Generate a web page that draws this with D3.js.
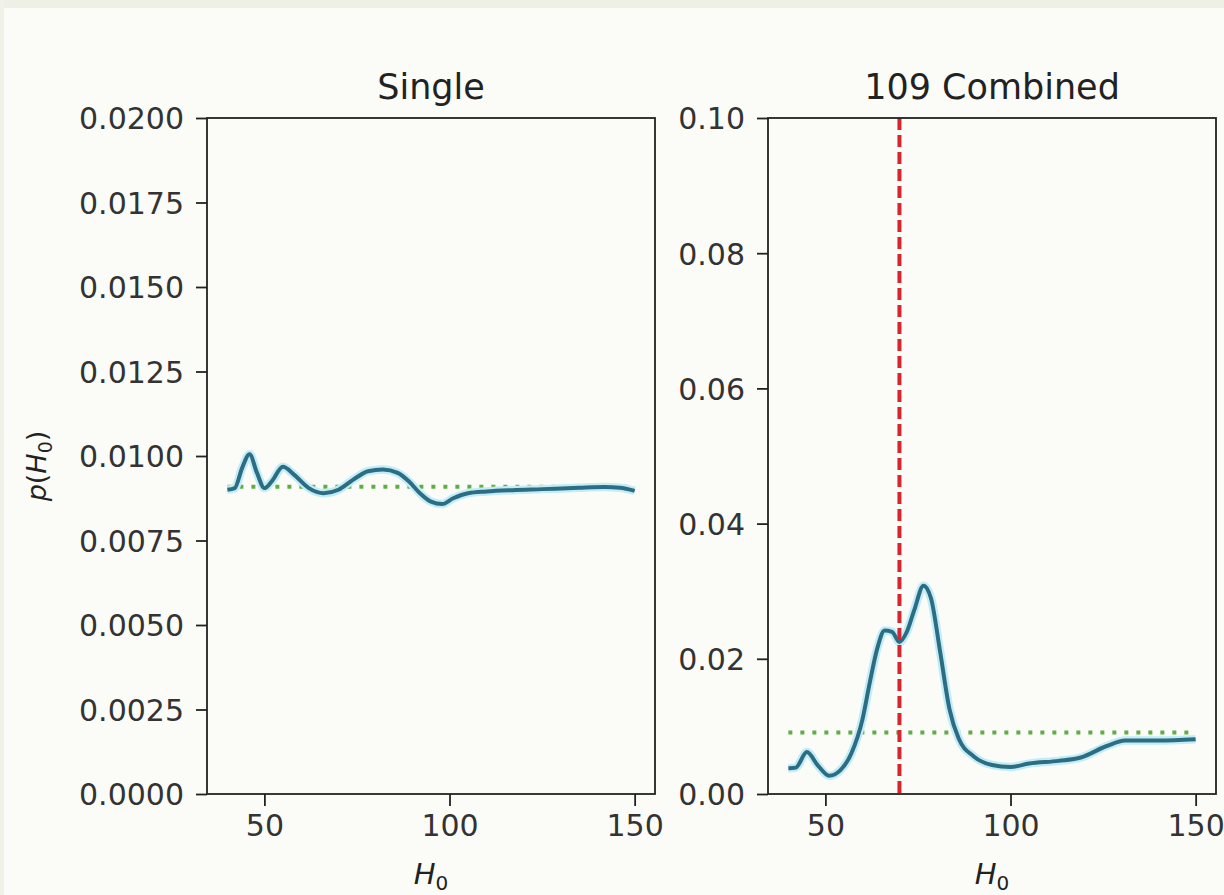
<!DOCTYPE html>
<html>
<head>
<meta charset="utf-8">
<script src="https://cdn.jsdelivr.net/npm/d3@7"></script>
<style>
	body { margin: 0; background: #fbfcf7; }
	svg { display: block; font-family: 'DejaVu Sans', sans-serif; }
	.tick text { fill: #333; }
</style>
</head>
<body>
<div id="chart"></div>
<script>
'use strict';

// Single event posterior
var singleH0 = [40, 42, 44, 46, 48, 50, 52, 55, 58, 62, 66, 70, 74, 78, 82, 86, 89, 92, 95, 98, 101, 105, 110, 117, 125, 135, 142, 146, 150];
var singleP = [0.00900, 0.00905, 0.00965, 0.01005, 0.00950, 0.00905, 0.00925, 0.00968, 0.00945, 0.00905, 0.00890, 0.00900, 0.00930, 0.00955, 0.00960, 0.00950, 0.00925, 0.00890, 0.00865, 0.00858, 0.00875, 0.00890, 0.00895, 0.00899, 0.00902, 0.00906, 0.00908, 0.00906, 0.00897];

// 109 combined posterior
var combH0 = [40, 42, 45, 48, 51, 54, 57, 60, 62, 64, 66, 68, 70, 72, 74, 76.5, 78.5, 81, 83.5, 86, 90, 95, 100, 105, 113, 119, 126, 131, 140, 150];
var combP = [0.0038, 0.0039, 0.0062, 0.0042, 0.0027, 0.0035, 0.0060, 0.0110, 0.0165, 0.0215, 0.0242, 0.0240, 0.0225, 0.0240, 0.0272, 0.0308, 0.0290, 0.0210, 0.0126, 0.0082, 0.0056, 0.0043, 0.0040, 0.0045, 0.0049, 0.0054, 0.0071, 0.0079, 0.0079, 0.0081];

var priorH0 = [40, 150];
var priorP = [1 / 110, 1 / 110];
var trueH0 = 70;

var panels = [
	{ title: 'Single', x: singleH0, y: singleP, yMax: 0.02, yTicks: d3.range(0, 0.02001, 0.0025), fmt: '.4f', truth: false, left: 207 },
	{ title: '109 Combined', x: combH0, y: combP, yMax: 0.10, yTicks: d3.range(0, 0.1001, 0.02), fmt: '.2f', truth: true, left: 768 }
];

var width = 1224, height = 895;
var plotTop = 118, plotBottom = 794, plotW = 448;

var svg = d3.select('#chart').append('svg')
	.attr('width', width)
	.attr('height', height);

svg.append('rect').attr('width', width).attr('height', height).attr('fill', '#fbfcf7');
svg.append('rect').attr('width', width).attr('height', 8).attr('fill', '#eef0e5');
svg.append('rect').attr('width', 4).attr('height', height).attr('fill', '#f0f2e8');

panels.forEach(function (p) {
	var x = d3.scaleLinear().domain([34.5, 155.5]).range([p.left, p.left + plotW]);
	var y = d3.scaleLinear().domain([0, p.yMax]).range([plotBottom, plotTop]);
	var g = svg.append('g');

	var line = d3.line()
		.x(function (d) { return x(d[0]); })
		.y(function (d) { return y(d[1]); })
		.curve(d3.curveMonotoneX);

	var pts = d3.zip(p.x, p.y);

	// prior
	g.append('path')
		.datum(d3.zip(priorH0, priorP))
		.attr('d', line)
		.attr('fill', 'none')
		.attr('stroke', '#5fae45')
		.attr('stroke-width', 4)
		.attr('stroke-dasharray', '4,8');

	// halo + posterior
	g.append('path')
		.datum(pts)
		.attr('d', line)
		.attr('fill', 'none')
		.attr('stroke', '#c4ecf6')
		.attr('stroke-width', 8.5)
		.attr('stroke-linejoin', 'round');
	g.append('path')
		.datum(pts)
		.attr('d', line)
		.attr('fill', 'none')
		.attr('stroke', '#2b6e84')
		.attr('stroke-width', 4)
		.attr('stroke-linejoin', 'round');

	if (p.truth) {
		g.append('line')
			.attr('x1', x(trueH0)).attr('x2', x(trueH0))
			.attr('y1', plotTop).attr('y2', plotBottom)
			.attr('stroke', '#d8242f')
			.attr('stroke-width', 4)
			.attr('stroke-dasharray', '12,5');
	}

	// frame
	g.append('rect')
		.attr('x', p.left).attr('y', plotTop)
		.attr('width', plotW).attr('height', plotBottom - plotTop)
		.attr('fill', 'none')
		.attr('stroke', '#222')
		.attr('stroke-width', 1.8);

	var xAxis = g.append('g')
		.attr('transform', 'translate(0,' + plotBottom + ')')
		.call(d3.axisBottom(x).tickValues([50, 100, 150]).tickSize(12).tickPadding(9).tickFormat(d3.format('d')));
	var yAxis = g.append('g')
		.attr('transform', 'translate(' + p.left + ',0)')
		.call(d3.axisLeft(y).tickValues(p.yTicks).tickSize(11).tickPadding(12).tickFormat(d3.format(p.fmt)));

	[xAxis, yAxis].forEach(function (a) {
		a.select('.domain').remove();
		a.selectAll('.tick line').attr('stroke', '#222').attr('stroke-width', 1.8);
		a.selectAll('.tick text').attr('font-size', 30).attr('font-family', 'DejaVu Sans');
	});
	xAxis.selectAll('.tick text').attr('dy', '0.71em');
	yAxis.selectAll('.tick text').attr('dy', '0.36em');

	g.append('text')
		.attr('x', p.left + plotW / 2)
		.attr('y', 99)
		.attr('text-anchor', 'middle')
		.attr('font-size', 35)
		.attr('fill', '#222')
		.text(p.title);

	var xl = g.append('text')
		.attr('x', p.left + plotW / 2)
		.attr('y', 884)
		.attr('text-anchor', 'middle')
		.attr('font-size', 29)
		.attr('font-style', 'italic')
		.attr('fill', '#222');
	xl.append('tspan').text('H');
	xl.append('tspan').attr('font-size', 20).attr('font-style', 'normal').attr('dy', 6).text('0');
});

var yl = svg.append('text')
	.attr('transform', 'translate(46,' + ((plotTop + plotBottom) / 2 + 10) + ') rotate(-90)')
	.attr('text-anchor', 'middle')
	.attr('font-size', 27)
	.attr('fill', '#222');
yl.append('tspan').attr('font-style', 'italic').text('p');
yl.append('tspan').text('(');
yl.append('tspan').attr('font-style', 'italic').text('H');
yl.append('tspan').attr('font-size', 19).attr('dy', 6).text('0');
yl.append('tspan').attr('dy', -6).text(')');
</script>
</body>
</html>
